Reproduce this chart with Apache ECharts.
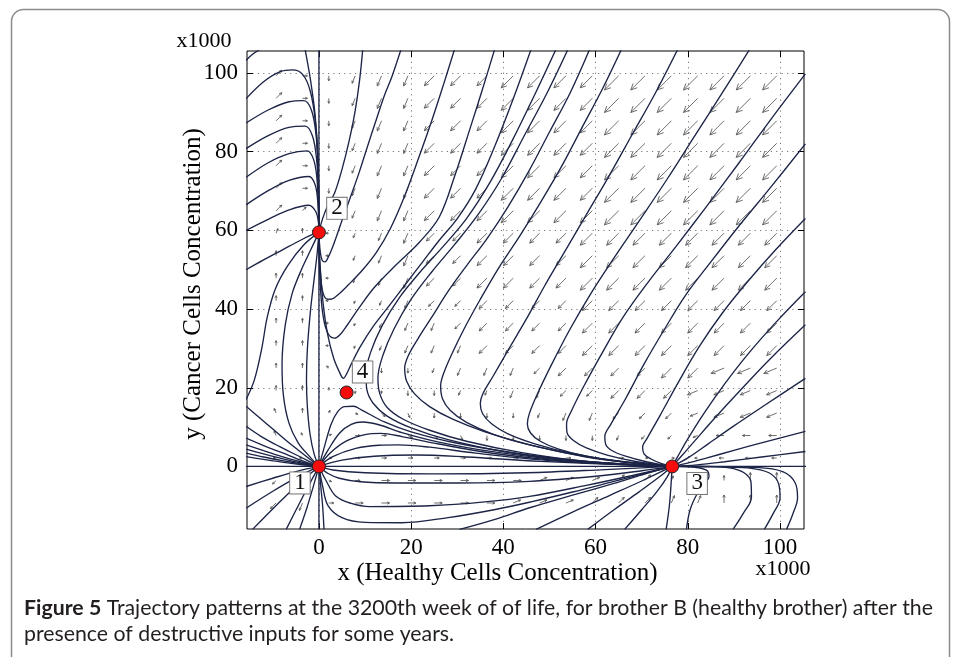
<!DOCTYPE html>
<html><head><meta charset="utf-8">
<script src="https://cdn.jsdelivr.net/npm/echarts@6/dist/echarts.min.js"></script>
<style>html,body{margin:0;padding:0;background:#fff}#c{width:959px;height:657px}</style>
</head><body><div id="c"></div>
<script>
// ---------- tick labels ----------
const xTicks = [0, 20, 40, 60, 80, 100];
const yTicks = [0, 20, 40, 60, 80, 100];

// ---------- equilibrium points ----------
const eqX = [0, 0, 76.6, 6.0];
const eqY = [0, 59.5, 0, 18.8];
const eqLabels = ['1', '2', '3', '4'];

// ---------- trajectories (data units x1000) ----------
const arches = [
  [[-15.8,103.2],[-14.6,104.6],[-12.8,106]],
  [[-15.8,93.5],[-12,97.8],[-8.5,100.3],[-5.7,100.8],[-3.5,99.6],[-1.9,95.5],[-0.8,88],[-0.25,78],[-0.05,69],[0,59.5]],
  [[-15.8,87.3],[-11,90.6],[-6.5,92.7],[-3.3,93],[-1.6,90.5],[-0.6,84],[-0.15,75],[0,59.5]],
  [[-15.8,80.8],[-11,84.1],[-6.5,86.2],[-3,86.5],[-1.4,84],[-0.5,78],[-0.1,70],[0,59.5]],
  [[-15.8,73.5],[-11,77.2],[-6.5,79.5],[-2.6,80.2],[-1.1,77.8],[-0.35,72],[0,59.5]],
  [[-15.8,66.5],[-11,70.1],[-6.5,72.7],[-2.2,73.7],[-0.8,71.5],[-0.2,66.5],[0,59.5]],
  [[-15.8,60],[-11,62.8],[-6.5,65.2],[-2.2,66.4],[-0.7,64.8],[-0.1,62],[0,59.5]],
  [[-3,106],[-1.8,98],[-0.8,89],[-0.2,78],[0,59.5]],
  [[-15.8,50],[-12,52.5],[-8,55],[-4,57.5],[-1.5,58.9],[0,59.5]]
];
const loops = [
  [[0,0],[-3,2.8],[-6.5,6],[-10,9.5],[-13,12.5],[-15.8,15.3]],
  [[-15.8,17],[-14,22],[-12.4,30],[-11.2,38],[-9.5,45],[-6.8,51],[-3.3,56.3],[0,59.5]],
  [[0,0],[-2,2.5],[-4.5,6],[-6.5,11],[-7.7,18],[-8,26],[-7.3,36],[-5.8,44],[-3.8,50],[-1.8,55],[0,59.5]],
  [[0,0],[-1,3],[-1.9,8],[-2.5,15],[-2.7,22],[-2.5,30],[-1.8,40],[-1,48],[-0.4,54],[0,59.5]]
];
const leftFan = [
  [[0,0],[-4,0.5],[-8,1.1],[-12,1.8],[-15.8,2.5]],
  [[0,0],[-4,0.7],[-8,1.5],[-12,2.4],[-15.8,3.4]],
  [[0,0],[-4,0.9],[-8,2],[-12,3.2],[-15.8,4.4]],
  [[0,0],[-4,1.2],[-8,2.5],[-12,4],[-15.8,5.5]],
  [[0,0],[-4,1.6],[-8,3.5],[-12,5.3],[-15.8,7.2]],
  [[0,0],[-4,2.4],[-8.6,5.1],[-12.5,7.6],[-15.8,10.2]],
  [[-15.8,-5.1],[-10,-3],[-5,-1.3],[0,0]],
  [[-15.8,-10.6],[-10,-6.3],[-5,-2.9],[0,0]],
  [[-14.4,-16],[-9,-9.6],[-4.5,-4.5],[0,0]],
  [[-7.1,-16],[-4.5,-10],[-2.2,-4.8],[0,0]],
  [[-4.2,-16],[-2.6,-10.5],[-1.2,-5],[0,0]],
  [[0,0],[0.4,-5],[0.8,-10],[1.1,-16]]
];
const axesLines = [
  [[0,-16],[0,106]],
  [[-16,0],[106,0]]
];
const toPoint2 = [
  [[0,59.5],[0.8,63],[2,66.5],[3.4,69.5],[5,75.5],[6.5,82.5],[7.8,90],[8.8,98],[9.5,106]],
  [[17.8,106],[15.8,99],[14.2,94.3],[12.4,88],[10.6,81.6],[8.8,75],[7,69],[5,62.5],[3.2,56.5],[2.1,53.4],[1.3,52],[0.7,52.4],[0.3,54.5],[0.1,57],[0,59.5]],
  [[29.4,106],[27,97],[24.5,88],[21.5,78],[18.5,68.5],[15.5,60.5],[12.5,54.5],[9.5,50],[6.5,46.3],[4.2,43.7],[2.6,42.5],[1.6,42.6],[0.8,44.5],[0.35,48.5],[0.1,53],[0,59.5]],
  [[38.1,106],[35.5,96],[32.8,86],[29.5,74],[26.1,63.4],[21.8,57],[16.7,51.2],[12,45.5],[8.5,40],[6,35.7],[4.5,33.4],[3.4,32.6],[2.3,33.2],[1.4,35.5],[0.7,40],[0.3,46],[0.1,52],[0,59.5]],
  [[46,106],[42,93],[38,81],[34,70.5],[30,63],[26.1,57.5],[22.5,52],[18.9,46.5],[15,40.5],[11.7,35.5],[9,30.5],[7,26],[5.9,23.3],[5.3,22.4],[4.6,23.6],[3.2,27.5],[1.9,33.5],[0.9,41.5],[0.35,49.5],[0.08,55],[0,59.5]]
];
const toPoint3 = [
  [[51.4,106],[47,95],[42,83],[37,72],[32,63],[27,56],[22,49.5],[17.5,43],[13.8,36],[11.2,29],[10.2,23.5],[10.4,19.5],[11.8,16],[14.8,12.8],[20,9.8],[28,6.8],[40,3.8],[55,1.5],[76.6,0]],
  [[54,106],[49.5,95],[44.5,84],[39.5,73],[34.5,64],[29.5,56.5],[24.5,49.5],[20,42.5],[16.3,35],[13.8,28],[12.8,22.5],[13.2,18.5],[14.8,15],[18.3,12],[24,9.2],[32,6.4],[44,3.5],[58,1.3],[76.6,0]],
  [[58.7,106],[54.5,95],[50,85],[45.5,75],[41,66],[36.5,58],[32,51],[28,44.5],[24.5,38],[21.5,32.5],[19.4,28.2],[18.6,25],[19,21.7],[20.7,18.5],[24,15.2],[29,12],[36,8.8],[46,5.4],[58,2.4],[68,0.9],[76.6,0]],
  [[65.6,106],[61.5,96],[57,86],[52.5,76],[48,67],[43.5,58.5],[39,50.5],[35,42.5],[31.5,35],[28.8,28.5],[27,23.5],[26.4,20.5],[26.8,17.2],[28.5,14.2],[32,11.2],[38,8.1],[47,5.1],[58,2.5],[68,1],[76.6,0]],
  [[77.8,106],[73,95],[68,84.5],[63,74],[58,64],[53.5,55],[49,46],[45,37.5],[41,29.5],[37.7,22.8],[35.6,18.6],[35,16],[35.5,13.4],[37.5,10.8],[41,8.3],[47,5.7],[55,3.3],[64,1.5],[76.6,0]],
  [[93.4,106],[87.5,95],[81.5,84],[75.5,73],[69.5,62.5],[64,53],[59,44],[54.5,35],[50.5,26],[47.3,18.2],[45.6,13.3],[45.2,10.8],[45.9,8.5],[48,6.4],[52,4.4],[58,2.6],[66,1.1],[76.6,0]],
  [[105.5,99.8],[98.5,89],[91,77],[84,66],[77.5,56],[71.5,47],[66,38],[61.5,29],[57.5,20.5],[54.8,14.2],[53.7,10.8],[53.8,8.6],[55.2,6.6],[58,4.7],[62.5,2.9],[69,1.2],[76.6,0]],
  [[105.5,82],[98,71],[91,61],[85,52],[79.5,43.5],[75,35],[70.5,26],[66.5,17.2],[63.3,10.7],[62,7.6],[62.2,5.6],[63.6,4],[66.5,2.6],[71,1.2],[76.6,0]],
  [[105.5,63],[99,55],[93,47],[87.5,39],[82.5,30.5],[78,21.5],[74,13],[71.2,7.2],[70.2,4.9],[70.5,3.2],[72,1.9],[74.2,0.8],[76.6,0]],
  [[105.5,44.4],[99,36.5],[93,28.5],[88,21],[83.5,13.5],[80,7],[77.8,2.5],[76.6,0]],
  [[105.5,36],[98,27.5],[91.5,19.5],[86,12.5],[81.5,6.5],[78.3,2.2],[76.6,0]],
  [[105.5,22.4],[97,15.8],[90,10.3],[84.5,5.8],[80.2,2.3],[76.6,0]],
  [[105.5,8.9],[97,6.3],[90,4.1],[84,2.1],[79.5,0.7],[76.6,0]],
  [[105.5,3.8],[96,2.4],[88,1.2],[82,0.4],[76.6,0]]
];
const from1Above = [
  [[0,0],[1,4.2],[2.6,10.6],[4,13.8],[5.5,15.2],[7.5,15.3],[9.2,14.4],[14.2,11.3],[20,8.8],[30,5.9],[45,3],[60,1.1],[76.6,0]],
  [[0,0],[2,4.2],[4.5,8.5],[7,10.7],[9.5,11.3],[13,10.6],[18,8.6],[26,6.2],[38,3.7],[55,1.4],[76.6,0]],
  [[0,0],[2.5,3.5],[6,6.5],[10,8.1],[13.4,8.4],[18,7.6],[26,5.7],[38,3.3],[55,1.2],[76.6,0]],
  [[0,0],[3,2.5],[8,4.6],[13,5.4],[17.3,5.5],[24,4.9],[34,3.4],[50,1.5],[76.6,0]],
  [[0,0],[5,1.6],[12,2.6],[21,2.9],[32,2.4],[48,1.3],[76.6,0]]
];
const from1Below = [
  [[0,0],[3,-0.9],[10,-1.6],[25,-1.9],[45,-1.6],[62,-0.8],[76.6,0]],
  [[0,0],[2,-1.8],[4.4,-3],[9,-3.9],[16.7,-4.2],[30,-4.2],[45.7,-3.8],[60,-2.5],[70,-1.1],[76.6,0]],
  [[0,0],[1.5,-3.5],[3.7,-7.6],[7,-9.4],[11,-10.2],[24,-10],[36,-9],[45.7,-7.6],[58,-4.8],[68,-2.3],[76.6,0]],
  [[0,0],[0.8,-5],[2,-10],[5,-13],[10,-14.2],[18,-14.3],[28,-13],[38,-11],[46,-9],[55,-6.5],[64,-3.8],[72,-1.4],[76.6,0]]
];
const fromBottom = [
  [[30.5,-16],[38,-13.5],[45.7,-10.5],[55,-7.3],[64,-4.3],[71,-1.8],[76.6,0]],
  [[47.1,-16],[55,-11.6],[63,-7.4],[70,-3.7],[76.6,0]],
  [[58.3,-16],[64,-11],[69.5,-6.4],[74,-2.5],[76.6,0]],
  [[66.3,-16],[70,-11],[73.3,-6.4],[75.6,-2.5],[76.6,0]],
  [[75.3,-16],[76,-10],[76.4,-4],[76.6,0]],
  [[79.7,-16],[80.5,-11],[82,-7],[83.6,-4.3],[84.6,-2.6],[84.1,-1],[81.5,-0.2],[76.6,0]],
  [[89.8,-16],[92,-12],[93.8,-7.8],[93.7,-4],[92.2,-1.6],[89,-0.35],[84,-0.05],[76.6,0]],
  [[96.6,-16],[98.5,-12],[100,-8],[99.7,-4.4],[97.6,-1.6],[93,-0.35],[86,-0.05],[76.6,0]],
  [[101.4,-16],[102.8,-12],[103.8,-8],[103.3,-4.2],[100.7,-1.4],[95,-0.25],[86,-0.05],[76.6,0]]
];

// ---------- direction field (quiver) ----------
const quiverX = [-9.29,-3.57,2.14,7.86,13.57,19.29,25,30.71,36.43,42.14,47.86,53.57,59.29,65,70.71,76.43,82.14,87.86,93.57,99.29];
const quiverY = [99.29,93.57,87.86,82.14,76.43,70.71,65,59.29,53.57,47.86,42.14,36.43,30.71,25,19.29,13.57,7.86,2.14,-3.57,-9.29];
// direction: hex digit k -> angle k*22.5 deg (0 = east, counter-clockwise)
const quiverDir = [
  "20cbbbaaaaaaaaaaaaaa",
  "20cbbbaaaaaaaaaaaaaa",
  "20cbbbaaaaaaaaaaaaaa",
  "20cbbbaaaaaaaaaaaaaa",
  "20cbbbaaaaaaaaaaaaaa",
  "20cbbbaaaaaaaaaaaaaa",
  "22cbbbaaaaaaaaaaaaaa",
  "348bbbaaaaaaaaaaaaaa",
  "448bbbaaaaaaaaaaaaaa",
  "448bbbaaaaaaaaaaaaaa",
  "448bbbaaaaaaaaaaaaaa",
  "448bbbbaaaaaaaaaaaaa",
  "448bbbbbaaaaaaaaaaaa",
  "446accbbbbaaaaaaa999",
  "444ccccbbbbaaaaa9999",
  "543fedccccbbbaaa9999",
  "55100fedcccccbaa9888",
  "88000000000000008888",
  "aaf00000001112234444",
  "ab000000011122233444"
];
// relative arrow length class
const quiverLen = [
  "32234455566667777777",
  "32234455566667777777",
  "32234455566667777777",
  "32234455566667777777",
  "32234455566667777777",
  "32234455566667777777",
  "32234455566667777777",
  "22123444555566666666",
  "22123444555566666666",
  "22123444555566666666",
  "22112333444455555555",
  "22112333444455555555",
  "22112333444455555555",
  "22112223333444455555",
  "22111222233334444444",
  "22112222222333333444",
  "21122222222222222333",
  "11122222222222111222",
  "22123333333333322233",
  "33233333333333333333"
];

// ---------- build ----------
const lenPx = [0, 3, 5, 8, 11, 14, 17, 20];
const quiverData = [];
quiverY.forEach((yv, r) => {
  quiverX.forEach((xv, c) => {
    quiverData.push([xv, yv, parseInt(quiverDir[r][c], 16), parseInt(quiverLen[r][c], 10)]);
  });
});

function renderArrow(params, api) {
  const p = api.coord([api.value(0), api.value(1)]);
  const a = api.value(2) * Math.PI / 8;
  const L = lenPx[api.value(3)];
  const ex = p[0] + L * Math.cos(a), ey = p[1] - L * Math.sin(a);
  const h = Math.max(2.4, L * 0.34);
  const hx1 = ex - h * Math.cos(a - 0.45), hy1 = ey + h * Math.sin(a - 0.45);
  const hx2 = ex - h * Math.cos(a + 0.45), hy2 = ey + h * Math.sin(a + 0.45);
  const st = { stroke: '#555', lineWidth: 0.85, fill: null };
  return {
    type: 'group',
    children: [
      { type: 'line', shape: { x1: p[0], y1: p[1], x2: ex, y2: ey }, style: st },
      { type: 'polyline', shape: { points: [[hx1, hy1], [ex, ey], [hx2, hy2]] }, style: st }
    ]
  };
}

const allCurves = [].concat(arches, loops, leftFan, axesLines, toPoint2, toPoint3, from1Above, from1Below, fromBottom);
const series = [];
series.push({
  type: 'custom', renderItem: renderArrow, data: quiverData,
  encode: { x: 0, y: 1 }, silent: true, z: 2, animation: false, clip: true
});
allCurves.forEach(pts => {
  series.push({
    type: 'line', data: pts, smooth: 0.35, showSymbol: false, symbol: 'none',
    lineStyle: { color: '#1c2447', width: 1.35 }, silent: true, z: 3, animation: false, clip: true
  });
});
const labelOffsets = [[-19, 16.5], [18, -24], [25, 17], [16, -20.5]];
series.push({
  type: 'scatter',
  data: eqX.map((x, i) => ({
    value: [x, eqY[i]], name: eqLabels[i],
    label: { offset: labelOffsets[i] }
  })),
  symbol: 'circle', symbolSize: 13,
  itemStyle: { color: '#f50d0d', borderColor: '#222', borderWidth: 1, opacity: 1 },
  label: {
    show: true, position: 'inside', formatter: p => p.name,
    fontFamily: 'Liberation Serif', fontSize: 23, color: '#111',
    backgroundColor: '#fff', borderColor: '#777', borderWidth: 1,
    padding: [2, 4, 0, 4], lineHeight: 19
  },
  z: 6, silent: true, animation: false
});

const tickFont = { fontFamily: 'Liberation Serif', fontSize: 23, color: '#000' };
function frameAxis(pos, isX, ticks, withLabels) {
  const ax = {
    type: 'value', position: pos,
    min: isX ? -15.6 : -15.9, max: isX ? 105.2 : 105.6,
    axisLine: { show: false, onZero: false },
    axisTick: { show: true, inside: true, length: 6, customValues: ticks, lineStyle: { color: '#000', width: 1 } },
    axisLabel: withLabels ? Object.assign({ customValues: ticks, margin: isX ? 7 : 9 }, tickFont) : { show: false },
    splitLine: withLabels ? { show: true, lineStyle: { color: '#777', width: 1, type: [1.2, 4.2] } } : { show: false }
  };
  return ax;
}
const chart = echarts.init(document.getElementById('c'), null, { renderer: 'canvas' });
chart.setOption({
  animation: false,
  backgroundColor: '#fff',
  grid: { left: 247, top: 51, width: 557, height: 478, show: true, borderColor: '#000', borderWidth: 1, backgroundColor: 'transparent' },
  xAxis: [frameAxis('bottom', true, xTicks, true), frameAxis('top', true, xTicks, false)],
  yAxis: [frameAxis('left', false, yTicks, true), frameAxis('right', false, yTicks, false)],
  graphic: [
    { type: 'rect', shape: { x: 11.5, y: 9.5, width: 938, height: 720, r: 12 }, style: { fill: 'none', stroke: '#8c8c8c', lineWidth: 1.5 }, z: -10, silent: true },
    { type: 'text', x: 204, y: 41, style: { text: 'x1000', fontFamily: 'Liberation Serif', fontSize: 22, fill: '#000', textAlign: 'center', textVerticalAlign: 'middle' }, silent: true },
    { type: 'text', x: 783, y: 569, style: { text: 'x1000', fontFamily: 'Liberation Serif', fontSize: 22, fill: '#000', textAlign: 'center', textVerticalAlign: 'middle' }, silent: true },
    { type: 'text', x: 497.5, y: 573, style: { text: 'x (Healthy Cells Concentration)', fontFamily: 'Liberation Serif', fontSize: 25, fill: '#000', textAlign: 'center', textVerticalAlign: 'middle' }, silent: true },
    { type: 'text', x: 193, y: 284, rotation: Math.PI / 2, style: { text: 'y (Cancer Cells Concentration)', fontFamily: 'Liberation Serif', fontSize: 25, fill: '#000', textAlign: 'center', textVerticalAlign: 'middle' }, silent: true },
    { type: 'text', x: 24, y: 608, style: {
        text: '{b|Figure 5} Trajectory patterns at the 3200th week of of life, for brother B (healthy brother) after the',
        fontFamily: 'Lato', fontSize: 21.3, fill: '#231f20', textAlign: 'left', textVerticalAlign: 'middle',
        rich: { b: { fontFamily: 'Lato', fontSize: 21.3, fontWeight: 'bold', fill: '#231f20' } }
      }, silent: true },
    { type: 'text', x: 24, y: 634, style: {
        text: 'presence of destructive inputs for some years.',
        fontFamily: 'Lato', fontSize: 21.3, fill: '#231f20', textAlign: 'left', textVerticalAlign: 'middle'
      }, silent: true }
  ],
  series: series
});
</script></body></html>
